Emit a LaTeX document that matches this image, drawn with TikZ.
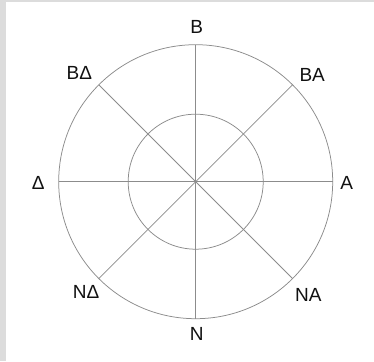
\documentclass[tikz,border=0pt]{standalone}
\usepackage{fontspec}
\setmainfont{Liberation Sans}
\usetikzlibrary{positioning}

\begin{document}
\begin{tikzpicture}[x=1pt, y=1pt]

% ---------------------------------------------------------------- colours
\definecolor{rimcolor}{HTML}{8C8C8C}    % circles and spokes
\definecolor{framecolor}{HTML}{DCDCDC}  % the grey page edge
\definecolor{labelcolor}{HTML}{111111}

% ================================================================
%   one unit = one pixel of the 374 x 361 picture, centre at (0,0)
%   outer circle r = 137, inner circle r = 67.5
%   eight spokes every 45 degrees, letters just outside the rim
% ================================================================

\def\rout{137}
\def\rin{67.5}

\tikzset{
    rim/.style={draw=rimcolor, line width=0.75pt},
    spoke/.style={draw=rimcolor, line width=0.75pt},
    lbl/.style={font=\fontsize{19}{22}\selectfont, text=labelcolor,
        inner sep=0pt, text height=13.6pt, text depth=0pt},
}

% ---------------------------------------------------------------- frame
\fill[white] (-195.7,-179.3) rectangle (178.3,181.7);
\useasboundingbox (-195.7,-179.3) rectangle (178.3,181.7);
\fill[framecolor] (-195.7,-179.3) rectangle (-189.7,181.7);
\fill[framecolor] (-195.7,179.7) rectangle (178.3,181.7);

% ---------------------------------------------------------------- the wheel
\coordinate (O) at (0,0);
\foreach \a in {0,45,...,315} {
    \coordinate (p\a) at (\a:\rout);
}

\draw[rim] (O) circle (\rout);
\draw[rim] (O) circle (\rin);

\foreach \a/\b in {0/180, 45/225, 90/270, 135/315} {
    \draw[spoke] (p\a) -- (p\b);
}

% ---------------------------------------------------------------- letters
\node[lbl] (lB)  at (1, 154.5)      {B};
\node[lbl] (lBA) at (116.5, 106.5)  {BA};
\node[lbl] (lBD) at (-116.4, 109)   {BΔ};
\node[lbl] (lD)  at (-157.5, -1)    {Δ};
\node[lbl] (lA)  at (151, -1)       {A};
\node[lbl] (lND) at (-109.7, -110)  {NΔ};
\node[lbl] (lNA) at (112.6, -113.3) {NA};
\node[lbl] (lN)  at (1, -151.6)     {N};

\end{tikzpicture}
\end{document}
